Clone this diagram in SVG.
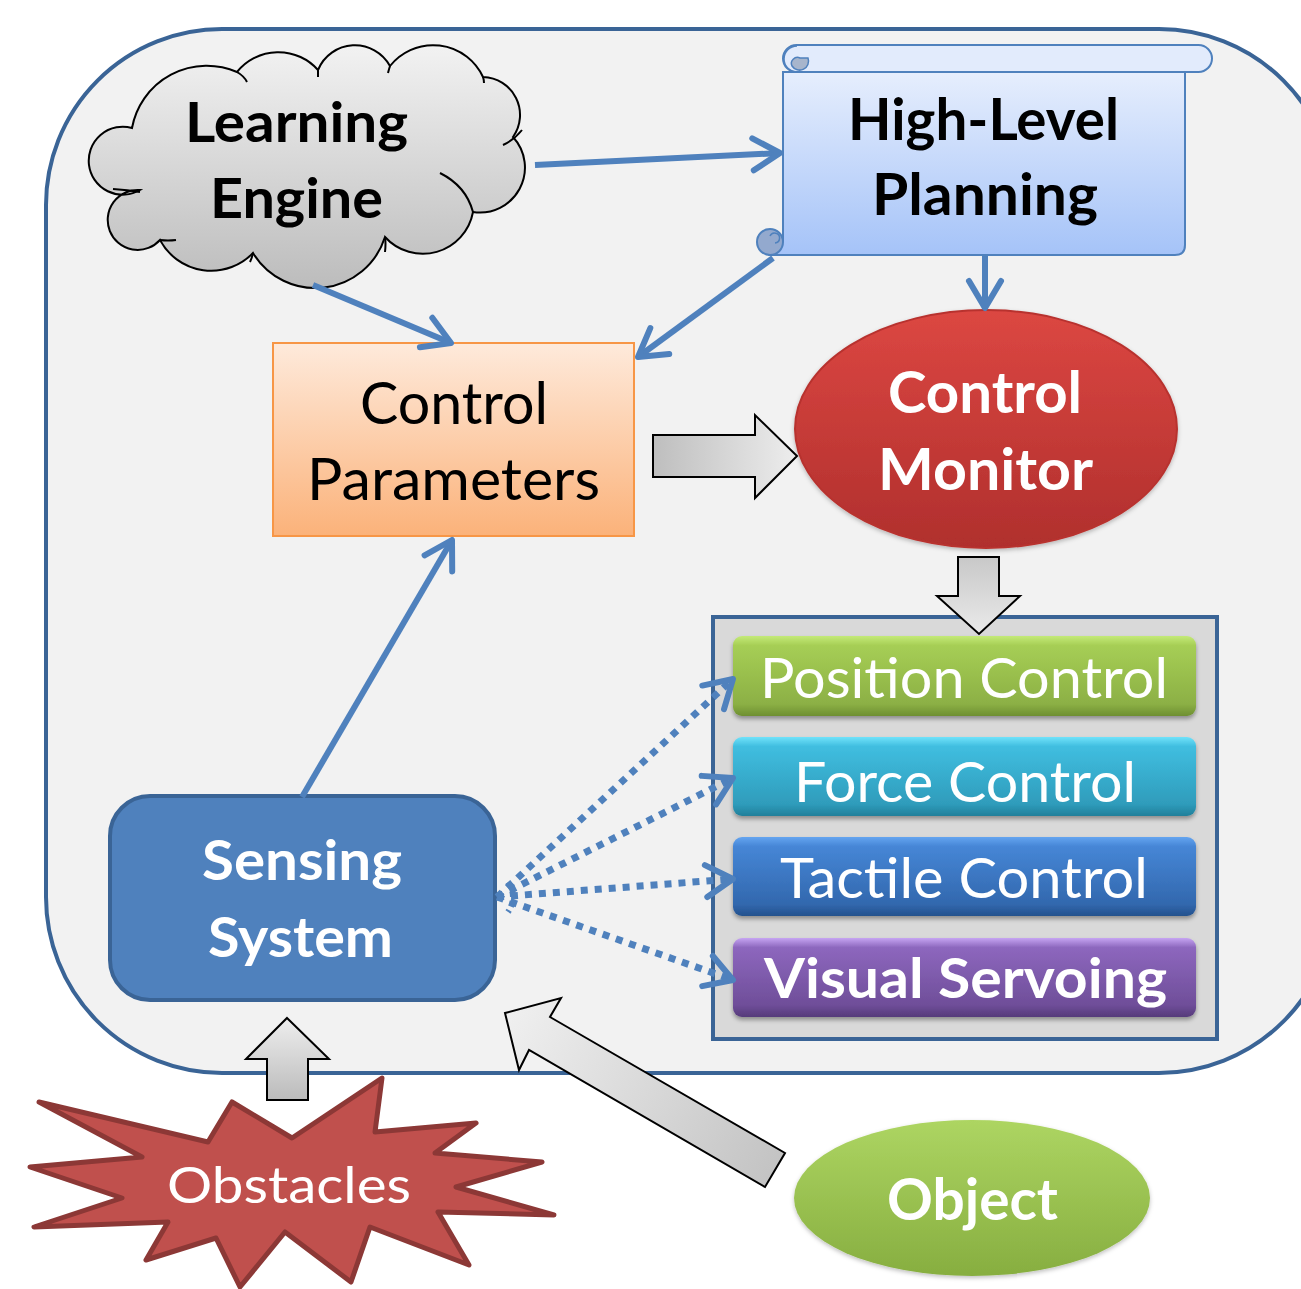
<svg xmlns="http://www.w3.org/2000/svg" width="1301" height="1289" viewBox="0 0 1301 1289">
<style>
text{font-family:Lato,"Open Sans","Liberation Sans",sans-serif;}
.b{font-weight:bold;}
.w{fill:#ffffff;}
.k{fill:#000000;}
.conn{fill:none;stroke:#4F81BD;stroke-width:6;}
.dot{fill:none;stroke:#4F81BD;stroke-width:7;stroke-dasharray:7 7;}
.blk{stroke:#000;stroke-width:2;stroke-linejoin:miter;}
</style>
<defs>
<marker id="arr" markerUnits="userSpaceOnUse" markerWidth="44" markerHeight="44" refX="32" refY="22" orient="auto">
<path d="M5,6 L32,22 L5,38" fill="none" stroke="#4F81BD" stroke-width="6" stroke-linecap="round" stroke-linejoin="round"/>
</marker>
<linearGradient id="gCloud" x1="0" y1="0" x2="0" y2="1"><stop offset="0" stop-color="#F2F2F2"/><stop offset="1" stop-color="#BCBCBC"/></linearGradient>
<linearGradient id="gScroll" x1="0" y1="0" x2="0" y2="1"><stop offset="0" stop-color="#E6EEFD"/><stop offset="1" stop-color="#A5C3F8"/></linearGradient>
<linearGradient id="gOrange" x1="0" y1="0" x2="0" y2="1"><stop offset="0" stop-color="#FEEADB"/><stop offset="1" stop-color="#FBB27A"/></linearGradient>
<linearGradient id="gRed" x1="0" y1="0" x2="0" y2="1"><stop offset="0" stop-color="#DC4742"/><stop offset="1" stop-color="#B02F2D"/></linearGradient>
<linearGradient id="gObj" x1="0" y1="0" x2="0" y2="1"><stop offset="0" stop-color="#ADD562"/><stop offset="1" stop-color="#87AE40"/></linearGradient>
<linearGradient id="gGreen" x1="0" y1="0" x2="0" y2="1"><stop offset="0" stop-color="#C4EA78"/><stop offset="0.12" stop-color="#A6CE55"/><stop offset="0.85" stop-color="#8CB045"/><stop offset="1" stop-color="#6E8F32"/></linearGradient>
<linearGradient id="gCyan" x1="0" y1="0" x2="0" y2="1"><stop offset="0" stop-color="#70E2FA"/><stop offset="0.12" stop-color="#40BEE0"/><stop offset="0.85" stop-color="#2F9CBB"/><stop offset="1" stop-color="#217F9A"/></linearGradient>
<linearGradient id="gBlue" x1="0" y1="0" x2="0" y2="1"><stop offset="0" stop-color="#65A5F0"/><stop offset="0.12" stop-color="#4686D6"/><stop offset="0.85" stop-color="#3268AE"/><stop offset="1" stop-color="#24518D"/></linearGradient>
<linearGradient id="gPurple" x1="0" y1="0" x2="0" y2="1"><stop offset="0" stop-color="#C6A5F2"/><stop offset="0.12" stop-color="#8D67BE"/><stop offset="0.85" stop-color="#6F4E99"/><stop offset="1" stop-color="#553A7A"/></linearGradient>
<linearGradient id="gArrH" x1="0" y1="0" x2="1" y2="0"><stop offset="0" stop-color="#BEBEBE"/><stop offset="1" stop-color="#EDEDED"/></linearGradient>
<linearGradient id="gArrV" x1="0" y1="0" x2="0" y2="1"><stop offset="0" stop-color="#EEEEEE"/><stop offset="1" stop-color="#BBBBBB"/></linearGradient>
<linearGradient id="gArrD" x1="0" y1="0" x2="0" y2="1"><stop offset="0" stop-color="#C8C8C8"/><stop offset="1" stop-color="#EAEAEA"/></linearGradient>
<linearGradient id="gArrO" x1="505" y1="1013" x2="785" y2="1170" gradientUnits="userSpaceOnUse"><stop offset="0" stop-color="#F0F0F0"/><stop offset="1" stop-color="#C2C2C2"/></linearGradient>
<filter id="sh" x="-5%" y="-10%" width="110%" height="130%"><feDropShadow dx="0" dy="3" stdDeviation="2" flood-color="#000" flood-opacity="0.35"/></filter>
<filter id="soft" x="-5%" y="-5%" width="110%" height="115%"><feDropShadow dx="0" dy="2" stdDeviation="2" flood-color="#000" flood-opacity="0.25"/></filter>
</defs>

<rect x="0" y="0" width="1301" height="1289" fill="#ffffff"/>
<g id="frame">
<rect x="46" y="29" width="1289" height="1044" rx="176" ry="176" fill="#F2F2F2" stroke="#3A6496" stroke-width="4"/>
</g>

<g id="learning-engine">
<path d="M160,240 A30,30 0 1 1 140,190 A34,34 0 1 1 132,128 A76,76 0 0 1 237,72 A53,53 0 0 1 318,70 A40,40 0 0 1 390,66 A55,55 0 0 1 483,77 A38,38 0 0 1 513,137 A45,45 0 0 1 473,212 A51,51 0 0 1 385,237 A73,73 0 0 1 253,253 A58,58 0 0 1 160,240 Z" fill="url(#gCloud)" stroke="#000" stroke-width="2"/>
<g fill="none" stroke="#000" stroke-width="2">
<path d="M440,173 Q466,186 473,212"/>
<path d="M503,145 Q514,140 522,130"/>
<path d="M113,189 Q128,190 140,192"/>
<path d="M237,72 Q244,76 247,82"/>
<path d="M160,240 Q168,241 176,240"/>
<path d="M385,237 Q386,243 385,252"/>
<path d="M253,253 Q252,258 250,262"/>
<path d="M318,70 Q318,73 318,77"/>
<path d="M390,66 Q389,69 388,73"/>
<path d="M483,77 Q484,80 484,83"/>
</g>
<text class="b k" x="185" y="142" font-size="56" textLength="223" lengthAdjust="spacingAndGlyphs">Learning</text>
<text class="b k" x="210" y="218" font-size="56" textLength="173" lengthAdjust="spacingAndGlyphs">Engine</text>
</g>

<g id="high-level-planning">
<path d="M783,72 L1185,72 L1185,245 Q1185,255 1175,255 L770,255 L783,241 Z" fill="url(#gScroll)" stroke="#4F81BD" stroke-width="2"/>
<rect x="783" y="45" width="429" height="27" rx="13.5" ry="13.5" fill="#E2EBFC" stroke="#4F81BD" stroke-width="2"/>
<path d="M808,58 A9,9 0 0 1 792,66 A6,6 0 0 1 800,58 Z" fill="#A7B5CC" stroke="#4F81BD" stroke-width="1.5"/>
<path d="M797,72 A13,13 0 0 1 797,46" fill="none" stroke="#4F81BD" stroke-width="1.5"/>
<circle cx="770" cy="242" r="13" fill="#93A9CE" stroke="#4F81BD" stroke-width="2"/>
<path d="M770,236 A5,5 0 1 1 775,243" fill="none" stroke="#4F81BD" stroke-width="1.5"/>
<text class="b k" x="848" y="140" font-size="58" textLength="271" lengthAdjust="spacingAndGlyphs">High-Level</text>
<text class="b k" x="872" y="215" font-size="58" textLength="226" lengthAdjust="spacingAndGlyphs">Planning</text>
</g>

<g id="control-parameters">
<rect x="273" y="343" width="361" height="193" fill="url(#gOrange)" stroke="#F79646" stroke-width="2"/>
<text class="k" x="360" y="424" font-size="58" textLength="188" lengthAdjust="spacingAndGlyphs">Control</text>
<text class="k" x="307" y="500" font-size="58" textLength="293" lengthAdjust="spacingAndGlyphs">Parameters</text>
</g>

<g id="control-monitor">
<ellipse cx="986" cy="429" rx="191" ry="119" fill="url(#gRed)" stroke="#B8322F" stroke-width="2" filter="url(#soft)"/>
<text class="b w" x="888" y="413" font-size="57" textLength="194" lengthAdjust="spacingAndGlyphs">Control</text>
<text class="b w" x="878" y="490" font-size="57" textLength="215" lengthAdjust="spacingAndGlyphs">Monitor</text>
</g>

<g id="control-modes">
<rect x="713" y="617" width="504" height="422" fill="#D9D9D9" stroke="#3A6496" stroke-width="4"/>
</g>
<g id="position-control">
<rect x="733" y="636" width="463" height="80" rx="9" ry="9" fill="url(#gGreen)" filter="url(#sh)"/>
<text class="w" x="760" y="698" font-size="56" textLength="408" lengthAdjust="spacingAndGlyphs">Position Control</text>
</g>
<g id="force-control">
<rect x="733" y="737" width="463" height="79" rx="9" ry="9" fill="url(#gCyan)" filter="url(#sh)"/>
<text class="w" x="794" y="802" font-size="56" textLength="342" lengthAdjust="spacingAndGlyphs">Force Control</text>
</g>
<g id="tactile-control">
<rect x="733" y="837" width="463" height="79" rx="9" ry="9" fill="url(#gBlue)" filter="url(#sh)"/>
<text class="w" x="780" y="898" font-size="56" textLength="368" lengthAdjust="spacingAndGlyphs">Tactile Control</text>
</g>
<g id="visual-servoing">
<rect x="733" y="938" width="463" height="79" rx="9" ry="9" fill="url(#gPurple)" filter="url(#sh)"/>
<text class="b w" x="764" y="998" font-size="56" textLength="403" lengthAdjust="spacingAndGlyphs">Visual Servoing</text>
</g>

<g id="sensing-system">
<rect x="110" y="796" width="385" height="204" rx="40" ry="40" fill="#4F81BD" stroke="#3A6496" stroke-width="4"/>
<text class="b w" x="202" y="880" font-size="56" textLength="200" lengthAdjust="spacingAndGlyphs">Sensing</text>
<text class="b w" x="208" y="957" font-size="56" textLength="185" lengthAdjust="spacingAndGlyphs">System</text>
</g>

<g id="obstacles">
<polygon points="39,1102 142,1157 30,1167 122,1198 34,1227 168,1222 146,1260 216,1238 240,1287 285,1232 351,1282 370,1227 469,1265 438,1212 554,1215 456,1187 542,1162 435,1153 476,1123 375,1132 382,1078 292,1138 232,1102 208,1142" fill="#C0504D" stroke="#8C3836" stroke-width="5" stroke-linejoin="round"/>
<text class="w" x="167" y="1203" font-size="50" textLength="244" lengthAdjust="spacingAndGlyphs">Obstacles</text>
</g>

<g id="object">
<ellipse cx="972" cy="1198" rx="178" ry="78" fill="url(#gObj)" filter="url(#soft)"/>
<text class="b w" x="887" y="1220" font-size="58" textLength="171" lengthAdjust="spacingAndGlyphs">Object</text>
</g>

<g id="connectors">
<line class="conn" x1="535" y1="165" x2="780" y2="153" marker-end="url(#arr)"/>
<line class="conn" x1="313" y1="285" x2="451" y2="343" marker-end="url(#arr)"/>
<line class="conn" x1="773" y1="258" x2="638" y2="357" marker-end="url(#arr)"/>
<line class="conn" x1="985" y1="256" x2="985" y2="308" marker-end="url(#arr)"/>
<line class="conn" x1="302" y1="797" x2="452" y2="540" marker-end="url(#arr)"/>
<path class="dot" d="M497,897 L733,679" marker-end="url(#arr)"/>
<path class="dot" d="M497,897 L733,778" marker-end="url(#arr)"/>
<path class="dot" d="M497,897 L733,879" marker-end="url(#arr)"/>
<path class="dot" d="M497,897 L733,980" marker-end="url(#arr)"/>
<path d="M508,882 Q518,897 508,912" fill="none" stroke="#4F81BD" stroke-width="6" stroke-dasharray="6 4"/>
<polygon class="blk" points="653,435 755,435 755,415 797,456 755,498 755,477 653,477" fill="url(#gArrH)"/>
<polygon class="blk" points="958,557 999,557 999,596 1020,596 979,634 937,596 958,596" fill="url(#gArrD)"/>
<polygon class="blk" points="287,1018 329,1059 308,1059 308,1100 267,1100 267,1059 246,1059" fill="url(#gArrV)"/>
<polygon class="blk" points="505,1013 561,998 550,1017 785,1153 765,1187 529,1050 519,1070" fill="url(#gArrO)"/>
</g>
</svg>
